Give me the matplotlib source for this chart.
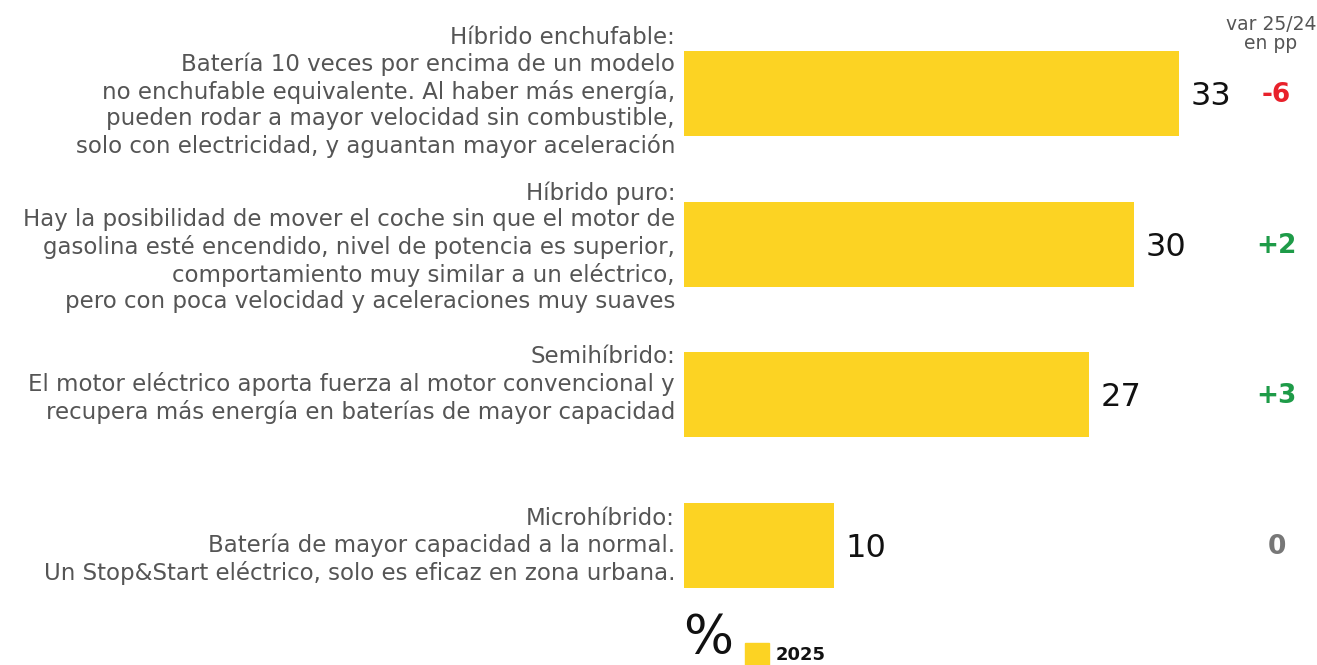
import matplotlib.pyplot as plt
from matplotlib.patches import Rectangle

# data
categories = [
    "Híbrido enchufable:\nBatería 10 veces por encima de un modelo\nno enchufable equivalente. Al haber más energía,\npueden rodar a mayor velocidad sin combustible,\nsolo con electricidad, y aguantan mayor aceleración",
    "Híbrido puro:\nHay la posibilidad de mover el coche sin que el motor de\ngasolina esté encendido, nivel de potencia es superior,\ncomportamiento muy similar a un eléctrico,\npero con poca velocidad y aceleraciones muy suaves",
    "Semihíbrido:\nEl motor eléctrico aporta fuerza al motor convencional y\nrecupera más energía en baterías de mayor capacidad",
    "Microhíbrido:\nBatería de mayor capacidad a la normal.\nUn Stop&Start eléctrico, solo es eficaz en zona urbana.",
]
values_2025 = [33, 30, 27, 10]
var_pp = [-6, 2, 3, 0]

YELLOW = "#FCD323"
GRAY_TXT = "#555555"

fig = plt.figure(figsize=(13.17, 6.65), dpi=100)
# axes starts where the bars start, 15 px per unit
ax = fig.add_axes([684 / 1317, 0, 633 / 1317, 1])
ax.set_xlim(0, 633 / 15)
ax.set_ylim((665 - 93.5) / 150.67, -93.5 / 150.67)
ax.axis("off")

ypos = list(range(len(categories)))
ax.barh(ypos, values_2025, height=0.564, color=YELLOW)

label_shift = [-0.01, 0.02, -0.07, 0]  # small tweaks to sit like the original
for y, lab, v, d, sh in zip(ypos, categories, values_2025, var_pp, label_shift):
    ax.text(-0.6, y + sh, lab, ha="right", va="center", fontsize=16.5,
            color=GRAY_TXT, linespacing=1.2)
    ax.text(v + 0.75, y + 0.02, str(v), ha="left", va="center",
            fontsize=23, color="#111111")
    if d > 0:
        txt, col = f"+{d}", "#1E9B48"
    elif d < 0:
        txt, col = f"{d}", "#E8212B"
    else:
        txt, col = "0", "#777777"
    ax.text(39.5, y + 0.01, txt, ha="center", va="center", fontsize=19,
            fontweight="bold", color=col)

fig.text(1271 / 1317, 1 - 34 / 665, "var 25/24\nen pp", ha="center", va="center",
         fontsize=13.5, color=GRAY_TXT, linespacing=1.0)

# legend
fig.text(708 / 1317, 1 / 665, "%", ha="center", va="bottom",
         fontsize=38, color="#111111")
fig.patches.append(Rectangle((745 / 1317, 0), 24 / 1317, 22 / 665,
                             transform=fig.transFigure, color=YELLOW))
fig.text(776 / 1317, 1 - 655 / 665, "2025", ha="left", va="center",
         fontsize=13, fontweight="bold", color="#111111")

fig.savefig("out.png", dpi=100)
